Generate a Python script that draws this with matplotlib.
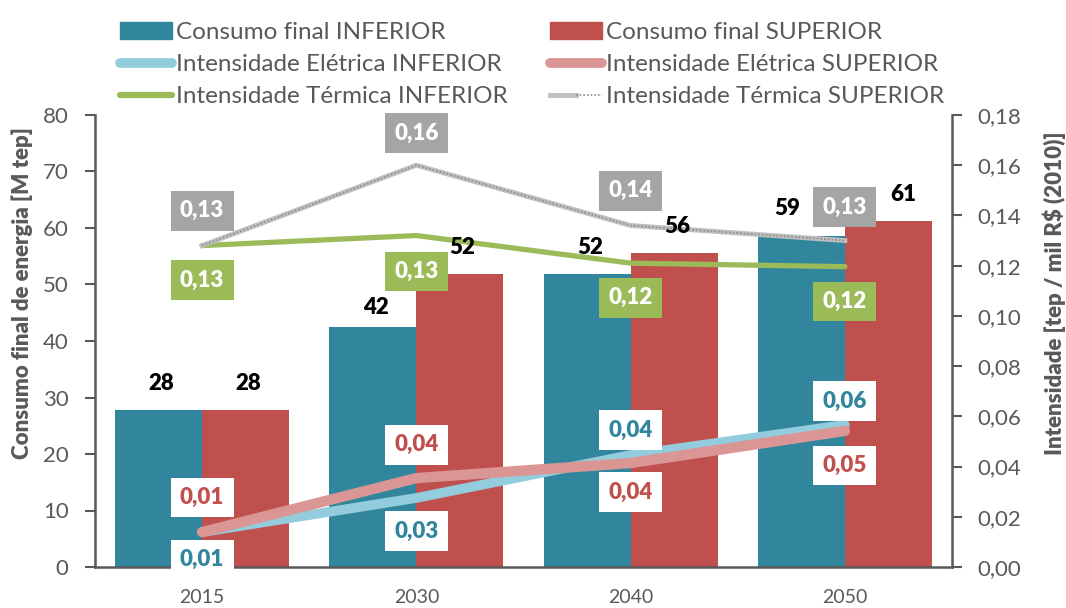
import matplotlib
matplotlib.use('Agg')
import matplotlib.pyplot as plt
from matplotlib.lines import Line2D
from matplotlib.patches import Patch
from matplotlib.ticker import FuncFormatter, MultipleLocator
from matplotlib.legend_handler import HandlerTuple

plt.rcParams['font.family'] = ['Lato', 'DejaVu Sans']

# data
anos = ['2015', '2030', '2040', '2050']
consumo_inf = [27.8, 42.5, 51.9, 58.6]
consumo_sup = [27.8, 51.9, 55.6, 61.2]
elet_inf = [0.0139, 0.0275, 0.0446, 0.0566]
elet_sup = [0.0139, 0.0354, 0.0414, 0.0542]
term_inf = [0.128, 0.132, 0.121, 0.1196]
term_sup = [0.128, 0.160, 0.136, 0.130]

C_INF = '#31859C'
C_SUP = '#C0504D'
C_EINF = '#93CDDD'
C_ESUP = '#D99694'
C_TINF = '#9BBB59'
C_TSUP = '#BFBFBF'
C_BOX = '#A5A5A5'
GRAY = '#595959'
BOLD = 'heavy'

fig = plt.figure(figsize=(10.66, 6.08), dpi=100)
ax = fig.add_axes([95 / 1066, 41 / 608, (952 - 95) / 1066, (567 - 115) / 608])
ax2 = ax.twinx()

x = list(range(len(anos)))
w = 0.406
ax.bar([i - w / 2 for i in x], consumo_inf, w, color=C_INF, zorder=1)
ax.bar([i + w / 2 for i in x], consumo_sup, w, color=C_SUP, zorder=1)

ax.set_xlim(-0.5, 3.5)
ax.set_ylim(0, 80)
ax.yaxis.set_major_locator(MultipleLocator(10))
ax.set_xticks(x)
ax.set_xticklabels(anos)
ax2.set_ylim(0, 0.18)
ax2.yaxis.set_major_locator(MultipleLocator(0.02))
ax2.yaxis.set_major_formatter(FuncFormatter(lambda v, p: f'{v:.2f}'.replace('.', ',')))

for a in (ax, ax2):
    for s in a.spines.values():
        s.set_color(GRAY)
        s.set_linewidth(1.8)
    a.spines['top'].set_visible(False)
ax.spines['right'].set_visible(False)
ax2.spines['left'].set_visible(False)
ax2.spines['bottom'].set_visible(False)

ax.tick_params(axis='y', colors=GRAY, labelsize=16, length=7, width=1.5, pad=12, direction='out')
ax.tick_params(axis='x', colors=GRAY, labelsize=14, length=0, pad=16)
ax2.tick_params(axis='y', colors=GRAY, labelsize=16, length=7, width=1.5, pad=11, direction='out')

ax.set_ylabel('Consumo final de energia [M tep]', fontsize=16, fontweight=BOLD, color=GRAY)
ax2.set_ylabel('Intensidade [tep / mil R$ (2010)]', fontsize=16, fontweight=BOLD, color=GRAY)
ax.yaxis.set_label_coords(-0.072, 0.605)
ax2.yaxis.set_label_coords(1.106, 0.605)

# intensity lines
ax2.plot(x, elet_inf, color=C_EINF, lw=7, solid_capstyle='round', zorder=3, clip_on=False)
ax2.plot(x, elet_sup, color=C_ESUP, lw=7.5, solid_capstyle='round', zorder=4, clip_on=False)
ax2.plot(x, term_inf, color=C_TINF, lw=3.8, solid_capstyle='round', zorder=3, clip_on=False)
ax2.plot(x, term_sup, color=C_TSUP, lw=3.5, zorder=4, clip_on=False)
ax2.plot(x, term_sup, color='#8C8C8C', lw=1.2, ls=(0, (1, 1.2)), zorder=4, clip_on=False)

# bar value labels (a few were nudged by hand in the original)
nudge_inf = [(2, 19), (2, 14), (2, 19), (-10, 20)]
nudge_sup = [(2, 19), (2, 19), (2, 19), (11, 19)]
for i in x:
    for dx, v, nd in ((-w / 2, consumo_inf[i], nudge_inf[i]), (w / 2, consumo_sup[i], nudge_sup[i])):
        ax2.annotate(f'{v:.0f}', xy=(i + dx, v), xycoords=ax.transData,
                     xytext=nd, textcoords='offset points', ha='center', va='center',
                     fontsize=16, fontweight=BOLD, color='black', zorder=6)


def label(vals, where, fg, bg, offs):
    for i, v in enumerate(vals):
        dy = offs[i] if where[i] == 'up' else -offs[i]
        ax2.annotate(f'{v:.2f}'.replace('.', ','), xy=(i, v), xytext=(0, dy),
                     textcoords='offset points', ha='center', va='center',
                     fontsize=16, fontweight=BOLD, color=fg, zorder=7,
                     bbox=dict(boxstyle='square,pad=0.42', fc=bg, ec='none'),
                     annotation_clip=False)


label(term_sup, ['up'] * 4, 'white', C_BOX, [25, 23, 25, 24])
label(term_inf, ['down'] * 4, 'white', C_TINF, [25, 26, 25, 25])
label(elet_inf, ['down', 'down', 'up', 'up'], C_INF, 'white', [20, 24, 18, 17])
label(elet_sup, ['up', 'up', 'down', 'down'], C_SUP, 'white', [25, 24, 21, 25])

# legend
handles = [
    Patch(color=C_INF),
    Line2D([], [], color=C_EINF, lw=7, solid_capstyle='round'),
    Line2D([], [], color=C_TINF, lw=4.5, solid_capstyle='round'),
    Patch(color=C_SUP),
    Line2D([], [], color=C_ESUP, lw=7, solid_capstyle='round'),
    (Line2D([], [], color=C_TSUP, lw=3.5),
     Line2D([], [], color='#8C8C8C', lw=1.2, ls=(0, (1, 1.2)))),
]
labels = ['Consumo final INFERIOR', 'Intensidade Elétrica INFERIOR', 'Intensidade Térmica INFERIOR',
          'Consumo final SUPERIOR', 'Intensidade Elétrica SUPERIOR', 'Intensidade Térmica SUPERIOR']
leg = fig.legend(handles, labels, loc='upper left', bbox_to_anchor=(120 / 1066, 1 - 22 / 608),
                 ncol=2, frameon=False, fontsize=17.5, handlelength=2.15, handletextpad=0.15,
                 columnspacing=1.75, labelspacing=0.46, borderpad=0, borderaxespad=0,
                 handler_map={tuple: HandlerTuple(ndivide=None, pad=0)})
for t in leg.get_texts():
    t.set_color(GRAY)

fig.savefig('out.png', dpi=100)
